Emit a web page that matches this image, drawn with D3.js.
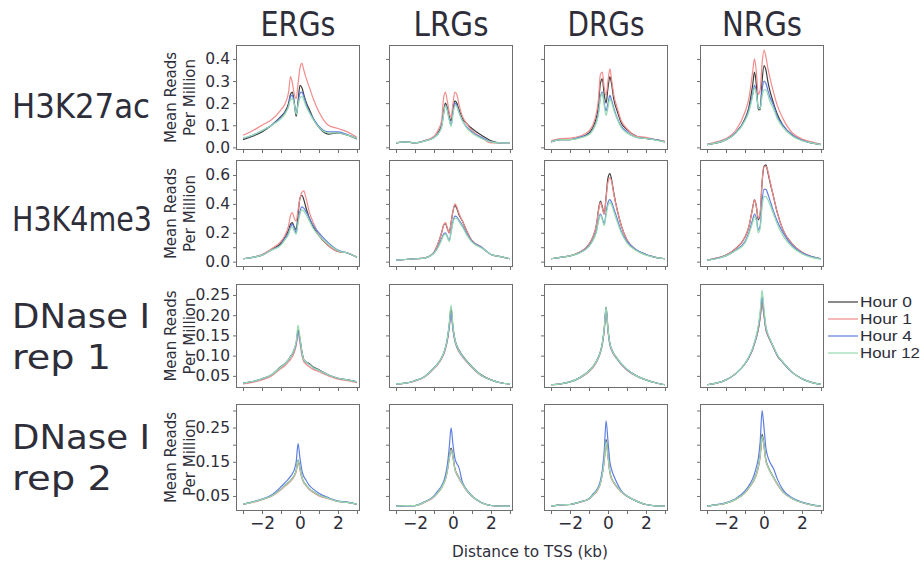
<!DOCTYPE html>
<html><head><meta charset="utf-8">
<script src="https://cdn.jsdelivr.net/npm/d3@7"></script>
<style>body{margin:0;background:#fff}</style>
</head><body>
<svg id="c" width="923" height="564"></svg>
<script>
// ---------- data ----------
const distances = [-3,-2.5,-2,-1.5,-1,-0.8,-0.6,-0.5,-0.4,-0.3,-0.2,-0.1,0,0.1,0.2,0.3,0.5,0.7,1,1.5,2,2.5,3];
const geneClasses = ["ERGs","LRGs","DRGs","NRGs"];
const marks = ["H3K27ac","H3K4me3","DNase I rep 1","DNase I rep 2"];
const markLabelLines = [["H3K27ac"],["H3K4me3"],["DNase I","rep 1"],["DNase I","rep 2"]];
const hours = ["Hour 0","Hour 1","Hour 4","Hour 12"];
const hourColors = ["#3c3c3c","#f28c8c","#5f7fe0","#95d9ae"];
const yTickValues = [
  [0,0.1,0.2,0.3,0.4],
  [0,0.1,0.2,0.3,0.4,0.5,0.6],
  [0.05,0.10,0.15,0.20,0.25],
  [0.05,0.10,0.15,0.20,0.25,0.30]
];
const yTickLabels = [
  ["0.0","0.1","0.2","0.3","0.4"],
  ["0.0","","0.2","","0.4","","0.6"],
  ["0.05","0.10","0.15","0.20","0.25"],
  ["0.05","","0.15","","0.25",""]
];
const yDomains = [[-0.012,0.463],[-0.037,0.704],[0.020,0.277],[0.006,0.319]];
const xTickValues = [-3,-2,-1,0,1,2,3];
const xTickLabels = ["","\u22122","","0","","2",""];

// H3K27ac  (rows: Hour 0, Hour 1, Hour 4, Hour 12)
const k27_ERGs = [
 [.035,.05,.07,.1,.14,.16,.2,.24,.25,.2,.14,.21,.28,.27,.24,.21,.17,.13,.09,.06,.065,.055,.038],
 [.055,.075,.1,.125,.17,.195,.25,.32,.29,.24,.22,.29,.36,.38,.35,.32,.27,.22,.16,.1,.085,.07,.045],
 [.04,.055,.075,.1,.135,.155,.19,.23,.235,.2,.15,.2,.245,.25,.23,.2,.16,.13,.095,.07,.07,.058,.04],
 [.042,.055,.075,.1,.13,.15,.185,.215,.22,.195,.15,.19,.225,.23,.215,.19,.155,.125,.09,.065,.065,.055,.04]];
const k27_LRGs = [
 [.02,.025,.02,.03,.045,.065,.1,.16,.2,.18,.14,.12,.17,.21,.2,.175,.13,.11,.085,.055,.03,.02,.022],
 [.02,.025,.02,.03,.05,.075,.12,.22,.25,.21,.16,.135,.2,.25,.24,.2,.14,.11,.075,.045,.02,.02,.02],
 [.02,.025,.02,.028,.045,.06,.095,.15,.19,.17,.13,.1,.155,.2,.19,.165,.12,.095,.07,.045,.025,.02,.02],
 [.02,.025,.02,.028,.045,.06,.09,.145,.19,.165,.125,.095,.15,.19,.185,.16,.12,.09,.065,.04,.025,.02,.02]];
const k27_DRGs = [
 [.025,.035,.035,.045,.065,.09,.14,.19,.29,.31,.24,.2,.27,.32,.28,.22,.16,.11,.08,.05,.04,.035,.025],
 [.03,.04,.042,.05,.075,.1,.16,.22,.33,.34,.27,.235,.3,.355,.3,.24,.175,.12,.085,.05,.045,.035,.028],
 [.025,.035,.035,.045,.06,.08,.12,.16,.23,.25,.2,.165,.2,.235,.21,.18,.13,.095,.07,.045,.04,.035,.025],
 [.025,.035,.035,.042,.058,.078,.115,.15,.22,.245,.19,.145,.18,.22,.2,.17,.125,.09,.065,.045,.04,.033,.025]];
const k27_NRGs = [
 [.012,.02,.035,.065,.13,.18,.28,.34,.28,.17,.17,.3,.37,.35,.3,.26,.2,.15,.1,.055,.032,.02,.012],
 [.015,.025,.04,.075,.16,.22,.34,.4,.34,.24,.26,.38,.44,.41,.36,.32,.25,.19,.13,.065,.038,.025,.015],
 [.012,.02,.035,.065,.125,.17,.24,.28,.25,.18,.18,.26,.3,.29,.26,.23,.19,.14,.1,.055,.032,.02,.012],
 [.012,.02,.035,.062,.12,.16,.23,.27,.24,.18,.175,.23,.26,.26,.24,.21,.175,.13,.09,.05,.03,.02,.012]];

// H3K4me3
const k4_ERGs = [
 [.02,.03,.045,.085,.13,.17,.22,.26,.27,.24,.22,.33,.44,.46,.43,.38,.3,.24,.18,.11,.07,.06,.03],
 [.02,.03,.05,.09,.14,.18,.25,.32,.34,.3,.28,.36,.44,.48,.49,.45,.34,.27,.19,.11,.07,.06,.03],
 [.02,.03,.045,.08,.12,.16,.2,.24,.26,.23,.2,.28,.35,.38,.37,.35,.3,.25,.2,.13,.08,.06,.03],
 [.02,.03,.045,.08,.115,.15,.19,.23,.24,.21,.19,.27,.33,.36,.35,.33,.28,.23,.18,.12,.075,.06,.03]];
const k4_LRGs = [
 [.01,.015,.02,.025,.065,.12,.2,.25,.265,.23,.2,.27,.35,.39,.37,.33,.28,.22,.145,.1,.05,.035,.02],
 [.01,.015,.02,.025,.065,.12,.2,.25,.27,.235,.2,.27,.35,.4,.38,.34,.28,.22,.145,.1,.05,.035,.02],
 [.01,.015,.02,.025,.06,.1,.16,.19,.2,.175,.145,.21,.28,.315,.31,.29,.25,.2,.14,.1,.05,.035,.02],
 [.01,.015,.02,.025,.058,.095,.15,.18,.19,.17,.14,.2,.27,.3,.3,.28,.24,.19,.135,.095,.05,.035,.02]];
const k4_DRGs = [
 [.02,.03,.04,.065,.12,.17,.26,.36,.42,.38,.33,.45,.58,.61,.56,.48,.35,.25,.15,.08,.05,.03,.02],
 [.02,.03,.04,.065,.12,.17,.26,.35,.41,.37,.33,.44,.55,.58,.55,.47,.35,.25,.15,.08,.05,.03,.02],
 [.02,.03,.04,.06,.11,.15,.22,.29,.33,.3,.26,.34,.41,.43,.41,.37,.29,.21,.14,.08,.05,.03,.02],
 [.02,.03,.04,.06,.105,.145,.21,.28,.32,.29,.25,.32,.39,.41,.39,.35,.27,.2,.13,.075,.045,.03,.02]];
const k4_NRGs = [
 [.01,.025,.045,.09,.17,.24,.37,.43,.38,.29,.33,.55,.66,.67,.62,.56,.45,.34,.22,.12,.065,.035,.02],
 [.01,.025,.045,.09,.17,.24,.37,.43,.38,.3,.34,.55,.66,.66,.63,.57,.45,.34,.22,.12,.065,.035,.02],
 [.01,.022,.04,.08,.14,.2,.29,.33,.3,.22,.25,.42,.5,.5,.47,.43,.35,.28,.2,.11,.06,.035,.02],
 [.01,.02,.04,.075,.13,.19,.27,.31,.28,.2,.23,.38,.45,.45,.43,.4,.33,.26,.18,.1,.055,.03,.018]];

// DNase I rep 1
const dn1_ERGs = [
 [.032,.036,.042,.052,.073,.08,.09,.098,.104,.115,.13,.163,.14,.11,.09,.085,.08,.072,.065,.052,.044,.04,.035],
 [.03,.034,.04,.05,.068,.075,.085,.09,.097,.108,.125,.155,.13,.1,.085,.08,.072,.066,.06,.05,.042,.038,.033],
 [.032,.036,.043,.053,.072,.08,.09,.097,.104,.115,.13,.16,.138,.108,.09,.085,.078,.07,.064,.052,.044,.04,.035],
 [.032,.036,.043,.053,.072,.08,.09,.097,.105,.117,.135,.175,.145,.11,.09,.085,.078,.07,.064,.052,.044,.04,.035]];
const dn1_LRGs = [
 [.03,.032,.038,.048,.07,.08,.095,.105,.12,.14,.175,.218,.17,.14,.125,.115,.1,.088,.073,.052,.04,.033,.03],
 [.03,.032,.037,.047,.068,.078,.092,.102,.115,.135,.168,.205,.162,.135,.12,.11,.097,.085,.07,.05,.04,.033,.03],
 [.03,.032,.038,.048,.07,.08,.094,.104,.118,.138,.17,.205,.165,.137,.122,.113,.098,.087,.072,.051,.04,.033,.03],
 [.03,.032,.038,.048,.07,.08,.095,.106,.12,.142,.178,.225,.172,.14,.124,.114,.099,.087,.072,.051,.04,.033,.03]];
const dn1_DRGs = [
 [.028,.03,.035,.045,.062,.072,.087,.097,.11,.13,.165,.22,.165,.13,.115,.105,.092,.08,.066,.05,.04,.033,.028],
 [.028,.03,.035,.044,.06,.07,.084,.094,.106,.126,.16,.21,.16,.126,.112,.102,.09,.078,.064,.049,.04,.033,.028],
 [.028,.03,.035,.045,.062,.072,.086,.096,.109,.129,.163,.215,.163,.128,.114,.104,.091,.079,.065,.05,.04,.033,.028],
 [.028,.03,.035,.045,.062,.072,.087,.097,.11,.13,.166,.22,.166,.13,.115,.105,.092,.08,.066,.05,.04,.033,.028]];
const dn1_NRGs = [
 [.028,.032,.04,.055,.08,.095,.115,.13,.145,.165,.195,.232,.2,.165,.15,.14,.12,.1,.083,.058,.043,.034,.029],
 [.028,.032,.04,.055,.08,.095,.115,.13,.145,.165,.195,.232,.2,.165,.15,.14,.12,.1,.083,.058,.043,.034,.029],
 [.028,.032,.04,.055,.08,.096,.117,.132,.148,.17,.203,.245,.208,.17,.153,.142,.121,.101,.083,.058,.043,.034,.029],
 [.028,.032,.04,.055,.081,.097,.118,.134,.151,.174,.21,.262,.215,.173,.155,.143,.122,.102,.084,.058,.043,.034,.029]];

// DNase I rep 2
const dn2_ERGs = [
 [.026,.032,.04,.05,.07,.08,.09,.095,.102,.11,.125,.155,.13,.105,.09,.083,.07,.062,.052,.043,.034,.031,.026],
 [.026,.031,.039,.049,.068,.078,.087,.092,.099,.107,.121,.15,.126,.102,.088,.081,.068,.06,.05,.042,.034,.031,.026],
 [.026,.033,.041,.053,.077,.088,.1,.107,.115,.127,.15,.203,.16,.125,.107,.098,.08,.07,.058,.045,.035,.032,.026],
 [.026,.032,.04,.05,.07,.08,.09,.095,.102,.11,.125,.155,.13,.105,.09,.083,.07,.062,.052,.043,.034,.031,.026]];
const dn2_LRGs = [
 [.02,.022,.022,.032,.048,.06,.075,.087,.1,.125,.16,.19,.165,.13,.115,.105,.085,.068,.05,.03,.022,.02,.02],
 [.02,.022,.022,.031,.047,.059,.074,.085,.098,.122,.157,.185,.162,.128,.113,.103,.084,.067,.049,.03,.022,.02,.02],
 [.02,.021,.022,.033,.05,.065,.08,.092,.11,.14,.19,.249,.2,.16,.145,.135,.09,.07,.05,.031,.022,.02,.02],
 [.02,.022,.022,.032,.048,.06,.075,.086,.099,.123,.158,.185,.163,.128,.113,.104,.085,.068,.05,.03,.022,.02,.02]];
const dn2_DRGs = [
 [.02,.024,.025,.032,.042,.052,.064,.073,.088,.115,.155,.215,.17,.12,.1,.09,.075,.062,.05,.035,.025,.021,.02],
 [.02,.024,.025,.031,.041,.051,.062,.071,.086,.112,.15,.205,.163,.117,.098,.088,.074,.061,.049,.035,.025,.021,.02],
 [.02,.024,.025,.032,.042,.055,.068,.078,.095,.125,.18,.27,.21,.15,.125,.11,.085,.065,.05,.035,.025,.021,.02],
 [.02,.024,.025,.032,.042,.052,.064,.073,.087,.114,.153,.21,.168,.12,.1,.09,.075,.062,.05,.035,.025,.021,.02]];
const dn2_NRGs = [
 [.02,.024,.029,.04,.06,.074,.09,.1,.115,.135,.17,.23,.2,.155,.138,.125,.105,.085,.062,.042,.031,.024,.02],
 [.02,.024,.029,.04,.059,.073,.088,.098,.112,.132,.165,.22,.193,.152,.135,.123,.103,.084,.061,.042,.031,.024,.02],
 [.02,.025,.03,.042,.065,.08,.1,.115,.135,.16,.21,.3,.25,.19,.165,.15,.13,.1,.068,.044,.032,.025,.02],
 [.02,.024,.029,.04,.06,.074,.09,.1,.115,.135,.17,.225,.197,.154,.137,.124,.104,.085,.062,.042,.031,.024,.02]];

const panelData = [
  [k27_ERGs,k27_LRGs,k27_DRGs,k27_NRGs],
  [k4_ERGs,k4_LRGs,k4_DRGs,k4_NRGs],
  [dn1_ERGs,dn1_LRGs,dn1_DRGs,dn1_NRGs],
  [dn2_ERGs,dn2_LRGs,dn2_DRGs,dn2_NRGs]
];

// ---------- layout ----------
const colLeft = [236,389,544,700];
const panelW = 124;
const rowTop = [45,160,284,404];
const rowBottom = [150,267,388,511];
const FONT = "'DejaVu Sans', Verdana, sans-serif";
const TXT = "#2e2e3a";
const FRAME = "#6e6e6e";

const svg = d3.select("#c");
svg.append("rect").attr("width",923).attr("height",564).attr("fill","#fff");

const line = (x,y) => d3.line().x((d,i)=>x(distances[i])).y(d=>y(d)).curve(d3.curveMonotoneX);

// column titles
const titleWidths = [75,75,77,80];
geneClasses.forEach((g,c)=>{
  svg.append("text").attr("x",colLeft[c]+panelW/2).attr("y",36)
    .attr("text-anchor","middle").attr("font-family",FONT).attr("font-size",34)
    .attr("fill",TXT).attr("textLength",titleWidths[c]).attr("lengthAdjust","spacingAndGlyphs").text(g);
});

// row labels
const rowLabelBase = [[118],[231],[328,369],[449,490]];
const rowLabelW = [[138],[140],[138,99],[138,100]];
markLabelLines.forEach((lines,r)=>{
  lines.forEach((t,k)=>{
    svg.append("text").attr("x",12).attr("y",rowLabelBase[r][k])
      .attr("font-family",FONT).attr("font-size",34).attr("fill",TXT)
      .attr("textLength",rowLabelW[r][k]).attr("lengthAdjust","spacingAndGlyphs").text(t);
  });
});

for(let r=0;r<4;r++){
  const y = d3.scaleLinear().domain(yDomains[r]).range([rowBottom[r],rowTop[r]]);
  const h = rowBottom[r]-rowTop[r];
  // y label
  const cy = (rowTop[r]+rowBottom[r])/2;
  [["Mean Reads",176],["Per Million",195]].forEach(([t,x])=>{
    svg.append("text").attr("transform",`translate(${x},${cy}) rotate(-90)`)
      .attr("text-anchor","middle").attr("font-family",FONT).attr("font-size",15)
      .attr("fill",TXT).text(t);
  });
  for(let c=0;c<4;c++){
    const x = d3.scaleLinear().domain([-3.37,3.16]).range([colLeft[c],colLeft[c]+panelW]);
    const g = svg.append("g");
    // axes
    const ya = d3.axisLeft(y).tickValues(yTickValues[r]).tickSizeInner(3).tickSizeOuter(0).tickPadding(3)
      .tickFormat((d,i)=> c===0 ? yTickLabels[r][i] : "");
    const yg = g.append("g").attr("transform",`translate(${colLeft[c]},0)`).call(ya);
    const xa = d3.axisBottom(x).tickValues(xTickValues).tickSizeInner(3).tickSizeOuter(0).tickPadding(3)
      .tickFormat((d,i)=> r===3 ? xTickLabels[i] : "");
    const xg = g.append("g").attr("transform",`translate(0,${rowBottom[r]})`).call(xa);
    [yg,xg].forEach(a=>{
      a.select(".domain").remove();
      a.selectAll("line").attr("stroke",FRAME);
      a.selectAll("text").attr("font-family",FONT).attr("fill",TXT);
    });
    yg.selectAll("text").attr("font-size",15.5);
    xg.selectAll("text").attr("font-size",17);
    // clip
    const cid = `clip${r}${c}`;
    svg.append("clipPath").attr("id",cid).append("rect")
      .attr("x",colLeft[c]).attr("y",rowTop[r]).attr("width",panelW).attr("height",h);
    const lg = g.append("g").attr("clip-path",`url(#${cid})`);
    panelData[r][c].forEach((vals,s)=>{
      lg.append("path").datum(vals).attr("fill","none").attr("stroke",hourColors[s])
        .attr("stroke-width",1.2).attr("d",line(x,y));
    });
    g.append("rect").attr("x",colLeft[c]+0.5).attr("y",rowTop[r]+0.5)
      .attr("width",panelW-1).attr("height",h-1).attr("fill","none").attr("stroke",FRAME);
  }
}

// x title
svg.append("text").attr("x",530).attr("y",557).attr("text-anchor","middle")
  .attr("font-family",FONT).attr("font-size",16).attr("fill",TXT)
  .attr("textLength",156).attr("lengthAdjust","spacingAndGlyphs").text("Distance to TSS (kb)");

// legend
const legY = [302,319,336,353];
const legW = [52,52,52,60];
hours.forEach((hh,i)=>{
  svg.append("line").attr("x1",828).attr("x2",858).attr("y1",legY[i]).attr("y2",legY[i])
    .attr("stroke",hourColors[i]).attr("stroke-width",1.2);
  svg.append("text").attr("x",860).attr("y",legY[i]).attr("dy","0.36em")
    .attr("font-family","'Liberation Sans', Arial, sans-serif").attr("font-size",14.5)
    .attr("textLength",legW[i]).attr("lengthAdjust","spacingAndGlyphs")
    .attr("fill",TXT).text(hh);
});
</script>
</body></html>
